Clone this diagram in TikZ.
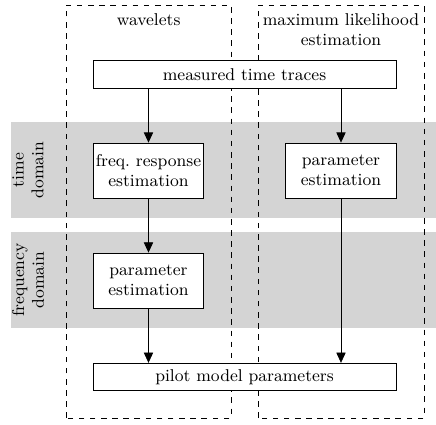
\documentclass[tikz,border=0pt]{standalone}
\usetikzlibrary{arrows.meta}

\begin{document}
\begin{tikzpicture}[
	font=\fontsize{9.2pt}{10.6pt}\selectfont,
	blockbox/.style={draw,fill=white,align=center,inner sep=1pt,minimum width=2.09cm,minimum height=1.04cm},
	widebox/.style={draw,fill=white,inner sep=1pt,minimum width=5.73cm,minimum height=0.52cm},
	flow/.style={-{Triangle[length=5.5pt,width=5pt]}}
]
	\useasboundingbox (0,0) rectangle (8.242,8.015);
	% domain bands
	\fill[black!17] (0.208,3.894) rectangle (8.242,5.709);
	\fill[black!17] (0.208,1.815) rectangle (8.242,3.629);
	\node[rotate=90,align=center] (timedom) at (0.53,4.80) {time\\domain};
	\node[rotate=90,align=center] (freqdom) at (0.53,2.72) {frequency\\domain};
	% method columns
	\draw[dashed] (1.248,0.113) rectangle (4.367,7.921);
	\draw[dashed] (4.877,0.113) rectangle (8.015,7.921);
	\node (wave) at (2.81,7.637) {wavelets};
	\node[align=center] (mle) at (6.446,7.448) {maximum likelihood\\estimation};
	% blocks
	\node[widebox] (traces) at (4.622,6.607) {measured time traces};
	\node[blockbox] (freqresp) at (2.807,4.792) {freq.\ response\\estimation};
	\node[blockbox] (paramR) at (6.446,4.792) {parameter\\estimation};
	\node[blockbox] (paramL) at (2.807,2.713) {parameter\\estimation};
	\node[widebox] (pilot) at (4.622,0.889) {pilot model parameters};
	% connections
	\draw[flow] (traces.south -| freqresp) -- (freqresp);
	\draw[flow] (traces.south -| paramR) -- (paramR);
	\draw[flow] (freqresp) -- (paramL);
	\draw[flow] (paramL) -- (pilot.north -| paramL);
	\draw[flow] (paramR) -- (pilot.north -| paramR);
\end{tikzpicture}
\end{document}
